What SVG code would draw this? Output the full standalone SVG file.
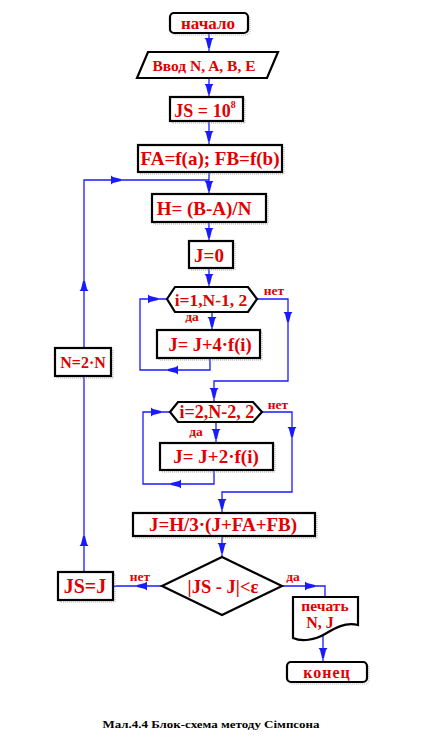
<svg xmlns="http://www.w3.org/2000/svg" xmlns:xlink="http://www.w3.org/1999/xlink" width="426" height="753" viewBox="0 0 426 753">
<style>
.box{fill:#fff;stroke:#000;stroke-width:2.2}
.sh{fill:none;stroke:#aaa;stroke-width:1;stroke-dasharray:1,1}
.t{font-family:"Liberation Serif","Times New Roman",serif;font-weight:bold;fill:#e00000;text-anchor:middle}
.lbl{font-family:"Liberation Serif","Times New Roman",serif;font-weight:bold;fill:#e00000;text-anchor:middle;font-size:13.5px}
.c{fill:none;stroke:#1a1aff;stroke-width:1.3}
.ah{fill:#1a1aff}
.cap{font-family:"Liberation Serif","Times New Roman",serif;font-weight:bold;fill:#000;text-anchor:middle;font-size:11px}
</style>
<defs>
<path id="ad" class="ah" d="M-4.5,-10 L4.5,-10 L3,-8 L1,0 L-1,0 L-3,-8 Z"/>
</defs>
<rect width="426" height="753" fill="#fff"/>

<g id="connectors">
<path class="c" d="M209,33 V52"/>
<path class="c" d="M209,78 V97"/>
<path class="c" d="M209,121 V145"/>
<path class="c" d="M209,172 V194"/>
<path class="c" d="M209,222 V241"/>
<path class="c" d="M209,268 V287"/>
<path class="c" d="M212,312 V330"/>
<path class="c" d="M257,299 H288 V381 H214 V402"/>
<path class="c" d="M210,358 V370 H140 V299 H167"/>
<path class="c" d="M216,422 V443"/>
<path class="c" d="M262,412 H292 V492 H222 V513"/>
<path class="c" d="M214,470 V484 H143 V412 H170"/>
<path class="c" d="M222,536 V557"/>
<path class="c" d="M162,586 H113"/>
<path class="c" d="M282,586 H325 V597"/>
<path class="c" d="M323,636 V662"/>
<path class="c" d="M84,572 V376"/>
<path class="c" d="M84,348 V180 H209"/>
<use xlink:href="#ad" transform="translate(209,48)"/>
<use xlink:href="#ad" transform="translate(209,94)"/>
<use xlink:href="#ad" transform="translate(209,141)"/>
<use xlink:href="#ad" transform="translate(209,191)"/>
<use xlink:href="#ad" transform="translate(209,238)"/>
<use xlink:href="#ad" transform="translate(209,284)"/>
<use xlink:href="#ad" transform="translate(212,327)"/>
<use xlink:href="#ad" transform="translate(288,322)"/>
<use xlink:href="#ad" transform="translate(214,398)"/>
<use xlink:href="#ad" transform="translate(158,299) rotate(-90)"/>
<use xlink:href="#ad" transform="translate(168,370) rotate(90)"/>
<use xlink:href="#ad" transform="translate(216,439)"/>
<use xlink:href="#ad" transform="translate(292,437)"/>
<use xlink:href="#ad" transform="translate(222,509)"/>
<use xlink:href="#ad" transform="translate(161,412) rotate(-90)"/>
<use xlink:href="#ad" transform="translate(171,484) rotate(90)"/>
<use xlink:href="#ad" transform="translate(222,553)"/>
<use xlink:href="#ad" transform="translate(137,586) rotate(90)"/>
<use xlink:href="#ad" transform="translate(315,586) rotate(-90)"/>
<use xlink:href="#ad" transform="translate(323,658)"/>
<use xlink:href="#ad" transform="translate(84,536) rotate(180)"/>
<use xlink:href="#ad" transform="translate(84,281) rotate(180)"/>
<use xlink:href="#ad" transform="translate(121,180) rotate(-90)"/>
<text class="lbl" x="274" y="295">нет</text>
<text class="lbl" x="192" y="321">да</text>
<text class="lbl" x="278" y="409">нет</text>
<text class="lbl" x="196" y="436">да</text>
<text class="lbl" x="140" y="581">нет</text>
<text class="lbl" x="293" y="581">да</text>
</g>

<g id="start">
<rect class="sh" x="172" y="15" width="78" height="20" rx="4"/>
<rect class="box" x="170" y="13" width="78" height="20" rx="4"/>
<text class="t" x="208" y="29" font-size="17">начало</text>
</g>
<g id="input">
<polygon class="box" points="148,52 278,52 267,78 137,78"/>
<text class="t" x="204" y="70.5" font-size="15.5">Ввод N, A, B, E</text>
</g>
<g id="js-init">
<rect class="sh" x="172" y="99" width="73" height="24"/>
<rect class="box" x="170" y="97" width="73" height="24"/>
<text class="t" x="205" y="117" font-size="18">JS = 10<tspan font-size="10" dy="-9">8</tspan></text>
</g>
<g id="fa-fb">
<rect class="sh" x="140" y="147" width="144" height="27"/>
<rect class="box" x="138" y="145" width="144" height="27"/>
<text class="t" x="210" y="165" font-size="19">FA=f(a); FB=f(b)</text>
</g>
<g id="h">
<rect class="sh" x="154" y="196" width="114" height="28"/>
<rect class="box" x="152" y="194" width="114" height="28"/>
<text class="t" x="204" y="215" font-size="19">H= (B-A)/N</text>
</g>
<g id="j0">
<rect class="sh" x="191" y="243" width="44" height="27"/>
<rect class="box" x="189" y="241" width="44" height="27"/>
<text class="t" x="209" y="261.5" font-size="19">J=0</text>
</g>
<g id="loop1">
<polygon class="box" points="167,299 175,287 248,287 257,299 248,312 175,312"/>
<text class="t" x="211" y="305.5" font-size="17.5">i=1,N-1, 2</text>
</g>
<g id="sum4">
<rect class="sh" x="159" y="332" width="103" height="28"/>
<rect class="box" x="157" y="330" width="103" height="28"/>
<text class="t" x="210" y="350.5" font-size="18.5">J= J+4·f(i)</text>
</g>
<g id="loop2">
<polygon class="box" points="170,412 178,402 253,402 262,412 253,422 178,422"/>
<text class="t" x="217" y="418" font-size="18">i=2,N-2, 2</text>
</g>
<g id="sum2">
<rect class="sh" x="162" y="445" width="113" height="27"/>
<rect class="box" x="160" y="443" width="113" height="27"/>
<text class="t" x="216" y="463" font-size="19">J= J+2·f(i)</text>
</g>
<g id="result">
<rect class="sh" x="135" y="515" width="182" height="23"/>
<rect class="box" x="133" y="513" width="182" height="23"/>
<text class="t" x="223" y="531" font-size="19">J=H/3·(J+FA+FB)</text>
</g>
<g id="check">
<polygon class="box" points="162,586 222,557 282,586 222,615"/>
<text class="t" x="223" y="592.5" font-size="18.5">|JS - J|&lt;ε</text>
</g>
<g id="js-j">
<rect class="sh" x="60" y="574" width="55" height="28"/>
<rect class="box" x="58" y="572" width="55" height="28"/>
<text class="t" x="85" y="593" font-size="20">JS=J</text>
</g>
<g id="n2n">
<rect class="sh" x="57" y="350" width="56" height="28"/>
<rect class="box" x="55" y="348" width="56" height="28"/>
<text class="t" x="83" y="367.5" font-size="16">N=2·N</text>
</g>
<g id="print">
<path class="box" d="M293,597 H358 V625 C345,622 335,628 325,634 C315,640 302,642 293,638 Z"/>
<text class="t" x="325" y="611" font-size="15.5">печать</text>
<text class="t" x="320" y="628" font-size="16">N, J</text>
</g>
<g id="end">
<rect class="sh" x="289" y="664" width="80" height="20" rx="4"/>
<rect class="box" x="287" y="662" width="80" height="20" rx="4"/>
<text class="t" x="327" y="677.5" font-size="16" letter-spacing="1">конец</text>
</g>
<text class="cap" x="211" y="728" textLength="217" lengthAdjust="spacingAndGlyphs">Мал.4.4 Блок-схема методу Сімпсона</text>
</svg>
